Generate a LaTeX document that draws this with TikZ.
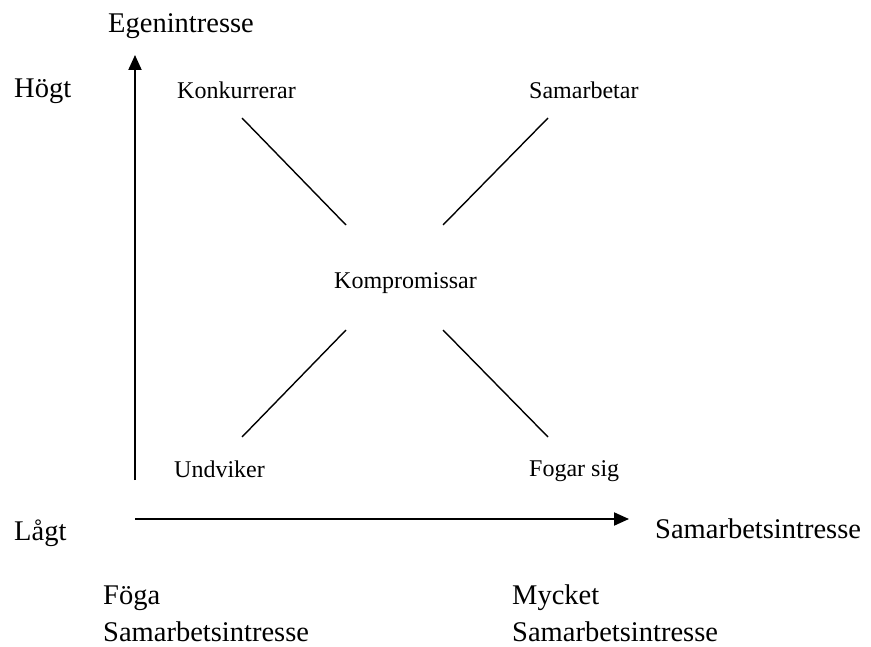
\documentclass[tikz,border=0pt]{standalone}
\usepackage{fontspec}
\setmainfont{Liberation Serif}
\usetikzlibrary{arrows.meta}
\tikzset{
  big/.style={anchor=base west, inner sep=0pt, font=\fontsize{28.5}{34}\selectfont},
  small/.style={anchor=base west, inner sep=0pt, font=\fontsize{24}{29}\selectfont},
  axis/.style={line width=2pt, -{Triangle[length=15pt,width=13pt]}},
  diag/.style={line width=1.4pt}
}
\begin{document}
\begin{tikzpicture}[x=1pt,y=-1pt]
\useasboundingbox (0,0) rectangle (871,647);
% axes
\coordinate (O) at (135,480);
\coordinate (Ytip) at (135,55);
\coordinate (Xs) at (135,519);
\coordinate (Xtip) at (629,519);
\draw[axis] (O) -- (Ytip);
\draw[axis] (Xs) -- (Xtip);
% texts
\node[big] (ege) at (108,33) {Egenintresse};
\node[big] (hog) at (14,98) {Högt};
\node[big] (lag) at (14,540) {Lågt};
\node[big] (sam) at (655,538) {Samarbetsintresse};
\node[big] (foga) at (103,604) {Föga};
\node[big] (foga2) at (103,641) {Samarbetsintresse};
\node[big] (myc) at (512,604) {Mycket};
\node[big] (myc2) at (512,641) {Samarbetsintresse};
\node[small] (kon) at (177,99) {Konkurrerar};
\node[small] (samb) at (529,99) {Samarbetar};
\node[small] (komp) at (334,289) {Kompromissar};
\node[small] (und) at (174,477) {Undviker};
\node[small] (fog) at (529,476) {Fogar sig};
% diagonals
\coordinate (a1) at (242,118);
\coordinate (a2) at (346,225);
\coordinate (b1) at (548,118);
\coordinate (b2) at (443,225);
\coordinate (c1) at (242,437);
\coordinate (c2) at (346,330);
\coordinate (d1) at (548,437);
\coordinate (d2) at (443,330);
\draw[diag] (a1) -- (a2);
\draw[diag] (b1) -- (b2);
\draw[diag] (c1) -- (c2);
\draw[diag] (d1) -- (d2);
\end{tikzpicture}
\end{document}
